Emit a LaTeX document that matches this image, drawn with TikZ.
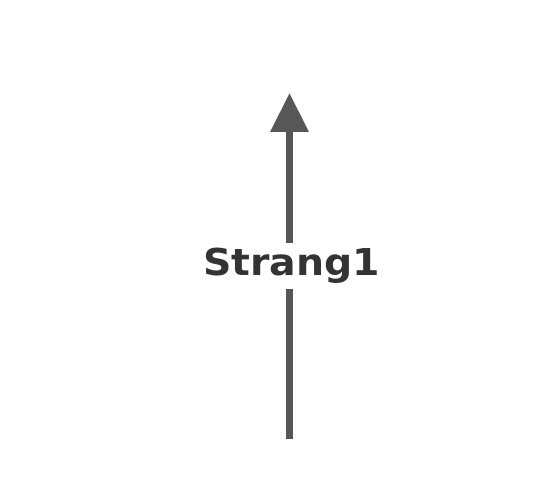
\documentclass[tikz,border=0pt]{standalone}
\usepackage{fontspec}
\setmainfont{DejaVu Sans}
\usetikzlibrary{arrows.meta}
\definecolor{linegray}{HTML}{575757}
\definecolor{textgray}{HTML}{333333}
\tikzset{
  conn/.style={draw=linegray, line width=6.5pt},
  lbl/.style={text=textgray, font=\fontsize{37}{42}\selectfont\bfseries, xscale=1.065, inner sep=0pt, minimum height=46pt, minimum width=10pt}
}
\begin{document}
\begin{tikzpicture}[x=1pt,y=1pt]
\useasboundingbox (0,0) rectangle (550,480);
\coordinate (bot) at (289.5,41);
\coordinate (tip) at (289.5,387);
\node[lbl] (s1) at (291.5,214) {Strang1};
\draw[conn] (bot) -- (s1.south -| bot);
\draw[conn, -{Triangle[length=39pt,width=37pt]}] (s1.north -| bot) -- (tip);
\end{tikzpicture}
\end{document}
